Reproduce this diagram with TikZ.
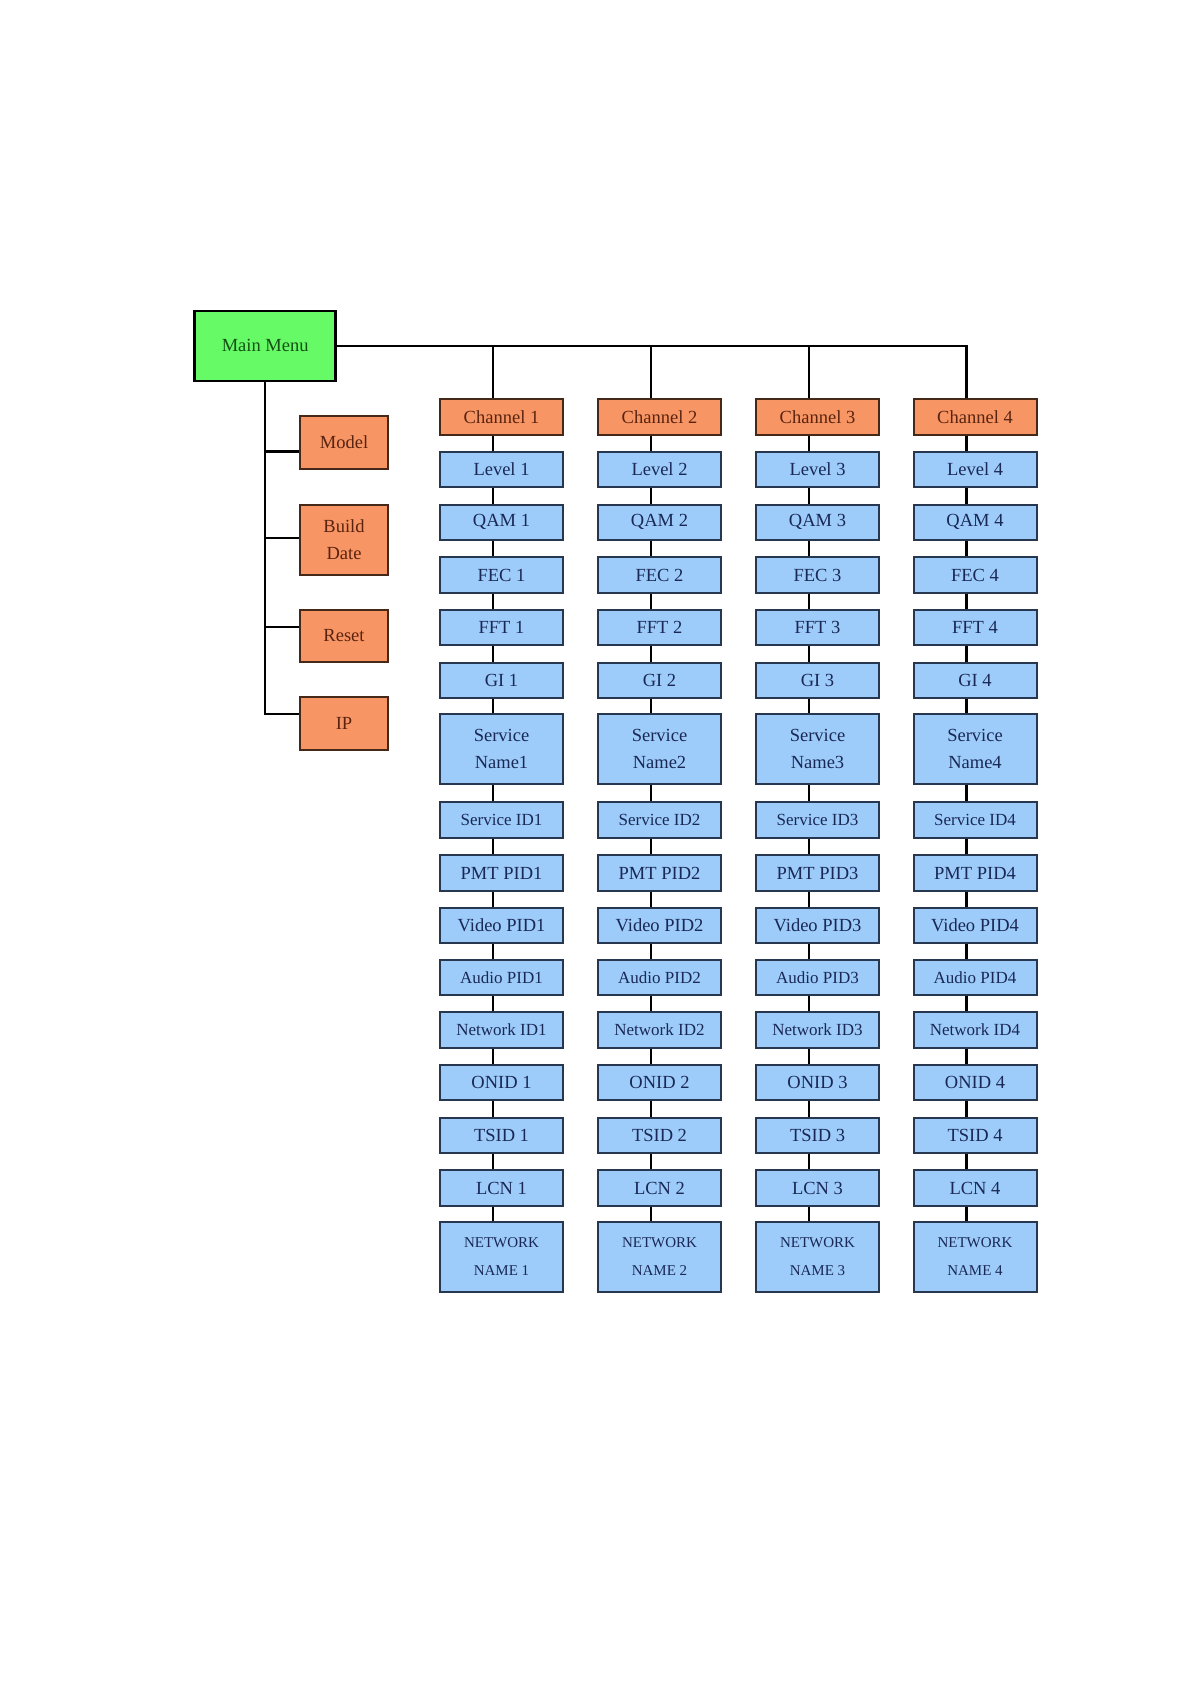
\documentclass[tikz,border=0pt]{standalone}
\usepackage{fontspec}
\setmainfont{Liberation Serif}
\definecolor{gfill}{RGB}{102,250,102}
\definecolor{ofill}{RGB}{247,150,100}
\definecolor{bfill}{RGB}{158,204,250}
\definecolor{gtext}{RGB}{20,80,20}
\definecolor{otext}{RGB}{90,35,15}
\definecolor{btext}{RGB}{25,40,85}
\definecolor{bdraw}{RGB}{40,55,80}
\definecolor{odraw}{RGB}{70,40,25}
\begin{document}
\begin{tikzpicture}[x=1pt,y=-1pt,
  box/.style={draw, line width=2pt, inner sep=0pt, minimum width=123pt, minimum height=35.5pt, align=center, font=\fontsize{18.5}{27}\selectfont},
  bbox/.style={box, fill=bfill, draw=bdraw, text=btext},
  obox/.style={box, fill=ofill, draw=odraw, text=otext},
  tall/.style={minimum height=70pt},
  small/.style={font=\fontsize{17}{27}\selectfont},
  tiny/.style={font=\fontsize{15}{28}\selectfont},
  link/.style={line width=2.5pt, black}]
\fill[white] (0,0) rectangle (1194,1686);
\useasboundingbox (0,0) rectangle (1194,1686);

% main menu and side items
\node[box, fill=gfill, draw=black, text=gtext, line width=2.8pt, minimum width=141pt, minimum height=70pt] (mm) at (265.2,345.9) {Main Menu};
\node[obox, minimum width=88pt, minimum height=53pt] (model) at (344,442.5) {Model};
\node[obox, minimum width=88pt, minimum height=70pt] (build) at (344,539.5) {Build\\Date};
\node[obox, minimum width=88pt, minimum height=52pt] (reset) at (344,635.5) {Reset};
\node[obox, minimum width=88pt, minimum height=52.6pt] (ip) at (344,723.3) {IP};

\draw[link] (mm.south) |- ([yshift=9.5pt]ip.west);
\draw[link] ([yshift=-9pt]model.west) -- ([yshift=-9pt]model.west -| mm.south);
\draw[link] ([yshift=1.5pt]build.west) -- ([yshift=1.5pt]build.west -| mm.south);
\draw[link] ([yshift=8.5pt]reset.west) -- ([yshift=8.5pt]reset.west -| mm.south);

% channel columns
\foreach \c/\x in {1/501.5, 2/659.5, 3/817.5, 4/975} {
  \node[obox] (ch\c) at (\x,416.8) {Channel \c};
  \node[bbox] (lv\c) at (\x,469.5) {Level \c};
  \node[bbox] (qam\c) at (\x,522.3) {QAM \c};
  \node[bbox] (fec\c) at (\x,575) {FEC \c};
  \node[bbox] (fft\c) at (\x,627.7) {FFT \c};
  \node[bbox] (gi\c) at (\x,680.3) {GI \c};
  \node[bbox, tall] (sn\c) at (\x,749.2) {Service\\Name\c};
  \node[bbox, small] (sid\c) at (\x,820.2) {Service ID\c};
  \node[bbox] (pmt\c) at (\x,873) {PMT PID\c};
  \node[bbox] (vid\c) at (\x,925.6) {Video PID\c};
  \node[bbox, small] (aud\c) at (\x,977.3) {Audio PID\c};
  \node[bbox, small] (nid\c) at (\x,1030) {Network ID\c};
  \node[bbox] (onid\c) at (\x,1082.7) {ONID \c};
  \node[bbox] (tsid\c) at (\x,1135.4) {TSID \c};
  \node[bbox] (lcn\c) at (\x,1188.1) {LCN \c};
  \node[bbox, tall, tiny] (nn\c) at (\x,1257) {NETWORK\\NAME \c};
}

\foreach \c in {1,...,4} {
  \foreach \a/\b in {ch/lv, lv/qam, qam/fec, fec/fft, fft/gi, gi/sn, sn/sid, sid/pmt, pmt/vid, vid/aud, aud/nid, nid/onid, onid/tsid, tsid/lcn, lcn/nn} {
    \draw[link] ([xshift=-8.7pt]\a\c.south) -- ([xshift=-8.7pt]\b\c.north);
  }
}

\draw[link] (mm.east) -| ([xshift=-8.7pt]ch4.north);
\foreach \c in {1,2,3} {
  \draw[link] ([xshift=-8.7pt]ch\c.north) -- ([xshift=-8.7pt]ch\c.north |- mm.east);
}
\end{tikzpicture}
\end{document}
